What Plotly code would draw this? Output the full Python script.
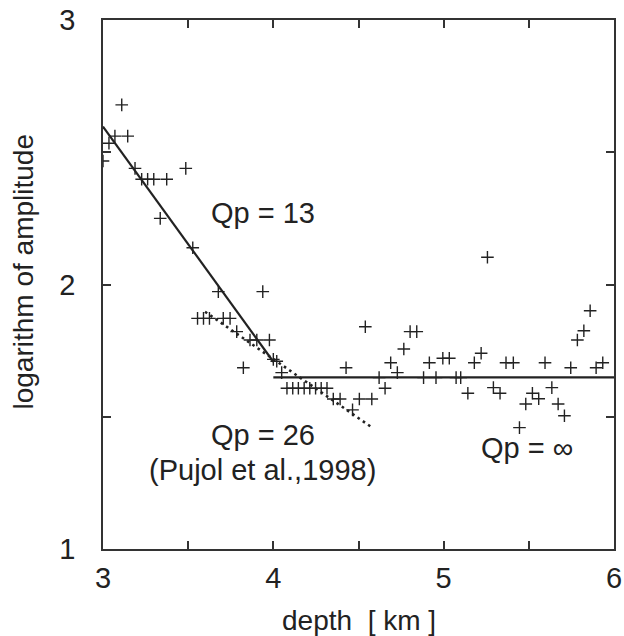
import plotly.graph_objects as go

# measured points: depth [km] and logarithm of amplitude
depth = [3.110, 3.070, 3.145, 3.035, 3.000, 3.188, 3.227, 3.262, 3.298, 3.374,
         3.486, 3.336, 3.527, 3.677, 3.938, 3.555, 3.590, 3.625, 3.706, 3.746,
         3.785, 3.863, 3.903, 3.977, 3.824, 4.000, 4.020, 4.049,
         4.080, 4.114, 4.147, 4.181, 4.214, 4.248, 4.281, 4.315,
         4.352, 4.392, 4.505, 4.578, 4.465, 4.427, 4.540, 4.621, 4.656, 4.689,
         4.728, 4.766, 4.803, 4.842, 4.882, 4.916, 4.955, 4.995, 5.033, 5.073,
         5.100, 5.142, 5.180, 5.220, 5.257, 5.292, 5.331, 5.366, 5.409, 5.445,
         5.482, 5.521, 5.558, 5.595, 5.635, 5.672, 5.709, 5.746, 5.785, 5.823,
         5.860, 5.895, 5.934]
log_amp = [2.679, 2.561, 2.561, 2.534, 2.467, 2.439, 2.398, 2.398, 2.398, 2.398,
           2.439, 2.250, 2.139, 1.973, 1.973, 1.872, 1.872, 1.872, 1.872, 1.872,
           1.822, 1.790, 1.790, 1.790, 1.685, 1.717, 1.710, 1.667,
           1.608, 1.608, 1.608, 1.608, 1.608, 1.608, 1.608, 1.608,
           1.567, 1.567, 1.567, 1.567, 1.526, 1.685, 1.840, 1.648, 1.608, 1.704,
           1.667, 1.756, 1.822, 1.822, 1.648, 1.704, 1.648, 1.721, 1.721, 1.648,
           1.648, 1.589, 1.704, 1.740, 2.103, 1.610, 1.589, 1.704, 1.704, 1.459,
           1.548, 1.589, 1.568, 1.704, 1.610, 1.548, 1.504, 1.685, 1.790, 1.825,
           1.901, 1.685, 1.704]

# fitted lines
qp13_x = [3.0, 4.0]
qp13_y = [2.597, 1.708]
qpinf_x = [4.0, 6.0]
qpinf_y = [1.649, 1.649]
qp26_x = [3.599, 4.587]
qp26_y = [1.897, 1.456]

x_ticks = [3, 3.5, 4, 4.5, 5, 5.5, 6]
x_ticktext = ["3", "", "4", "", "5", "", "6"]
y_ticks = [1, 1.5, 2, 2.5, 3]
y_ticktext = ["1", "", "2", "", "3"]

FONT = "Liberation Sans, Arial, Helvetica, sans-serif"
INK = "#222222"

fig = go.Figure()
fig.add_trace(go.Scatter(x=qp13_x, y=qp13_y, mode="lines",
                         line=dict(color=INK, width=2.2), showlegend=False))
fig.add_trace(go.Scatter(x=qpinf_x, y=qpinf_y, mode="lines",
                         line=dict(color=INK, width=2.2), showlegend=False))
fig.add_trace(go.Scatter(x=qp26_x, y=qp26_y, mode="lines",
                         line=dict(color=INK, width=2.6, dash="2.6px,3.8px"),
                         showlegend=False))
fig.add_trace(go.Scatter(x=depth, y=log_amp, mode="markers",
                         marker=dict(symbol="cross-thin", size=9,
                                     line=dict(color=INK, width=1.4)),
                         showlegend=False))

fig.add_annotation(x=3.937, y=2.272, text="Qp = 13", showarrow=False,
                   font=dict(size=29, color=INK, family=FONT))
fig.add_annotation(x=3.937, y=1.431, text="Qp = 26", showarrow=False,
                   font=dict(size=29, color=INK, family=FONT))
fig.add_annotation(x=3.937, y=1.298, text="(Pujol et al.,1998)", showarrow=False,
                   font=dict(size=29, color=INK, family=FONT))
fig.add_annotation(x=5.49, y=1.382, text="Qp = ∞", showarrow=False,
                   font=dict(size=29, color=INK, family=FONT))

# axis titles
fig.add_annotation(xref="paper", yref="paper", x=0.5, y=0, yanchor="middle",
                   yshift=-71, text="depth  [ km ]", showarrow=False,
                   font=dict(size=28, color=INK, family=FONT))
fig.add_annotation(xref="paper", yref="paper", x=0, y=0.5227, xanchor="center",
                   xshift=-80, textangle=-90, text="logarithm of amplitude",
                   showarrow=False, font=dict(size=28, color=INK, family=FONT))

axis_common = dict(showgrid=False, zeroline=False, showline=True, mirror="ticks",
                   linecolor="#333333", linewidth=1.5, ticks="inside", ticklen=8,
                   tickwidth=1.5, tickcolor="#333333", automargin=False,
                   tickfont=dict(size=29, color=INK, family=FONT))
fig.update_xaxes(range=[3, 6], tickvals=x_ticks, ticktext=x_ticktext,
                 ticklabelstandoff=2, **axis_common)
fig.update_yaxes(range=[1, 3], tickvals=y_ticks, ticktext=y_ticktext,
                 ticklabelstandoff=20, **axis_common)

fig.update_layout(width=624, height=636, margin=dict(l=103, r=10, t=20, b=87),
                  plot_bgcolor="white", paper_bgcolor="white",
                  font=dict(family=FONT, color=INK))

fig.write_html("out.html", config={"displayModeBar": False},
               post_script="document.body.style.margin='0';"
                           "document.body.style.overflow='hidden';")
